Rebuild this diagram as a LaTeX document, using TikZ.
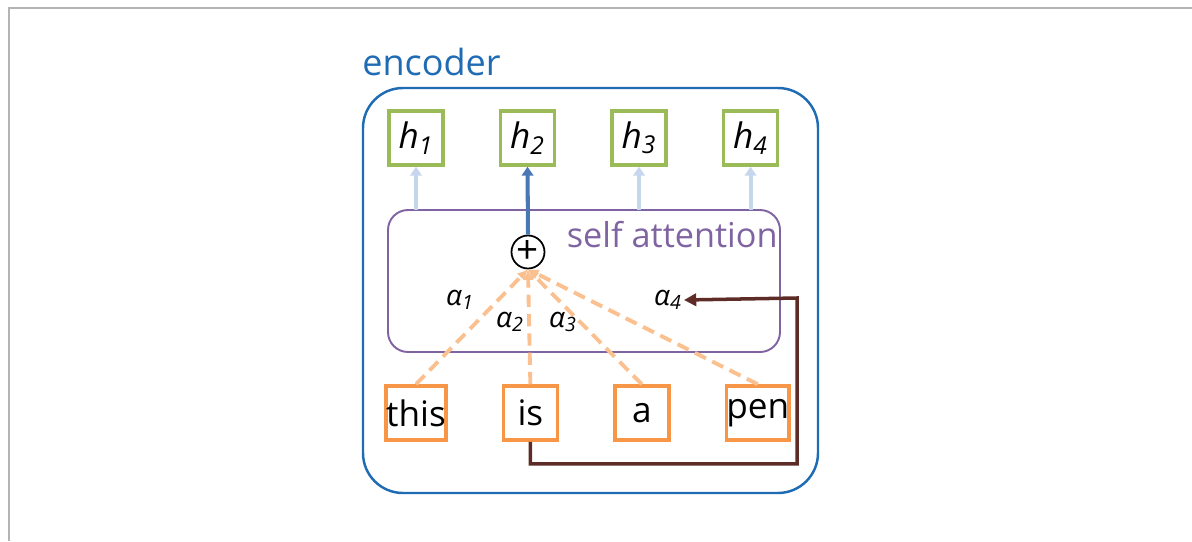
\documentclass[tikz,border=0pt]{standalone}
\usepackage{fontspec}
\setmainfont{Open Sans}
\usetikzlibrary{arrows.meta,positioning,calc}
\definecolor{encblue}{HTML}{1F6BB4}
\definecolor{hgreen}{HTML}{9BBB59}
\definecolor{worange}{HTML}{F79646}
\definecolor{attpurple}{HTML}{8064A2}
\definecolor{dashorange}{HTML}{FAC090}
\definecolor{lightarr}{HTML}{C6D6EC}
\definecolor{darkarr}{HTML}{4A78B4}
\definecolor{brownarr}{HTML}{5E2C26}
\definecolor{framegray}{HTML}{B4B4B4}
\tikzset{
  tokbox/.style={rectangle, line width=2pt, fill=white,
                 minimum width=1.08cm, minimum height=1.08cm,
                 inner sep=0pt, font=\fontsize{20}{20}\selectfont},
  hbox/.style={tokbox, draw=hgreen},
  wbox/.style={tokbox, draw=worange},
  alab/.style={font=\fontsize{16}{16}\selectfont\itshape, inner sep=1pt},
  uparr/.style={-{Triangle[length=5pt,width=6.5pt]}, line width=2.3pt, draw=lightarr},
  attn/.style={-{Latex[length=6pt,width=6pt]}, line width=2.2pt, draw=dashorange,
               dash pattern=on 7pt off 4pt}
}
\begin{document}
\begin{tikzpicture}[
    node distance=1.08cm,
    plusnode/.style={circle, draw=black, line width=1pt, fill=white,
                     minimum size=0.66cm, inner sep=0pt,
                     font=\fontsize{22}{22}\selectfont}
]
  \useasboundingbox (0,0) rectangle (23.84,-10.82);
  % page frame
  \draw[framegray, line width=1pt] (0.18,-10.82) -- (0.18,-0.16) -- (23.84,-0.16);

  % encoder frame
  \draw[encblue, line width=1.4pt, rounded corners=0.8cm]
    (7.26,-1.76) rectangle (16.36,-9.86);
  \node[anchor=base west, text=encblue, inner sep=0pt,
        font=\fontsize{20.5}{20.5}\selectfont] (enc) at (7.24,-1.5) {encoder};

  % self attention block
  \draw[attpurple, line width=1.1pt, rounded corners=0.4cm]
    (7.76,-4.2) rectangle (15.6,-7.04);
  \node[anchor=base east, text=attpurple, inner sep=0pt,
        font=\fontsize{19.5}{19.5}\selectfont] (att) at (15.56,-4.94) {self attention};
  \coordinate (atttop) at (0,-4.2);

  % outputs (top row)
  \node[hbox] (h1) at (8.32,-2.76) {\textit{h\textsubscript{1}}};
  \node[hbox, right=of h1] (h2) {\textit{h\textsubscript{2}}};
  \node[hbox, right=of h2] (h3) {\textit{h\textsubscript{3}}};
  \node[hbox, right=of h3] (h4) {\textit{h\textsubscript{4}}};

  % inputs (bottom row)
  \node[wbox] (w1) at (8.32,-8.26) {this};
  \node[wbox, right=of w1] (w2) {is};
  \node[wbox, right=of w2] (w3) {a};
  \node[wbox, right=of w3] (w4) {pen};

  \node[plusnode] (plus) at (10.56,-5.04) {+};

  \foreach \h in {h1,h3,h4}{
    \draw[uparr] (\h |- atttop) -- (\h.south);
  }
  \draw[uparr, draw=darkarr] (plus.north) -- (h2.south);

  \foreach \w in {w1,w2,w3,w4}{
    \draw[attn] (\w.north) -- (plus.south);
  }

  % weights
  \node[alab] (a1) at (9.2,-6.0)  {α\textsubscript{1}};
  \node[alab] (a2) at (10.2,-6.44) {α\textsubscript{2}};
  \node[alab] (a3) at (11.26,-6.44) {α\textsubscript{3}};
  \node[alab] (a4) at (13.36,-6.0) {α\textsubscript{4}};

  \coordinate (turn) at (15.94,-5.96);
  \draw[-{Triangle[length=7pt,width=7pt]}, line width=2pt, draw=brownarr]
    (w2.south) -- ++(0,-0.44) -| (turn) -- (a4.east);
\end{tikzpicture}
\end{document}
